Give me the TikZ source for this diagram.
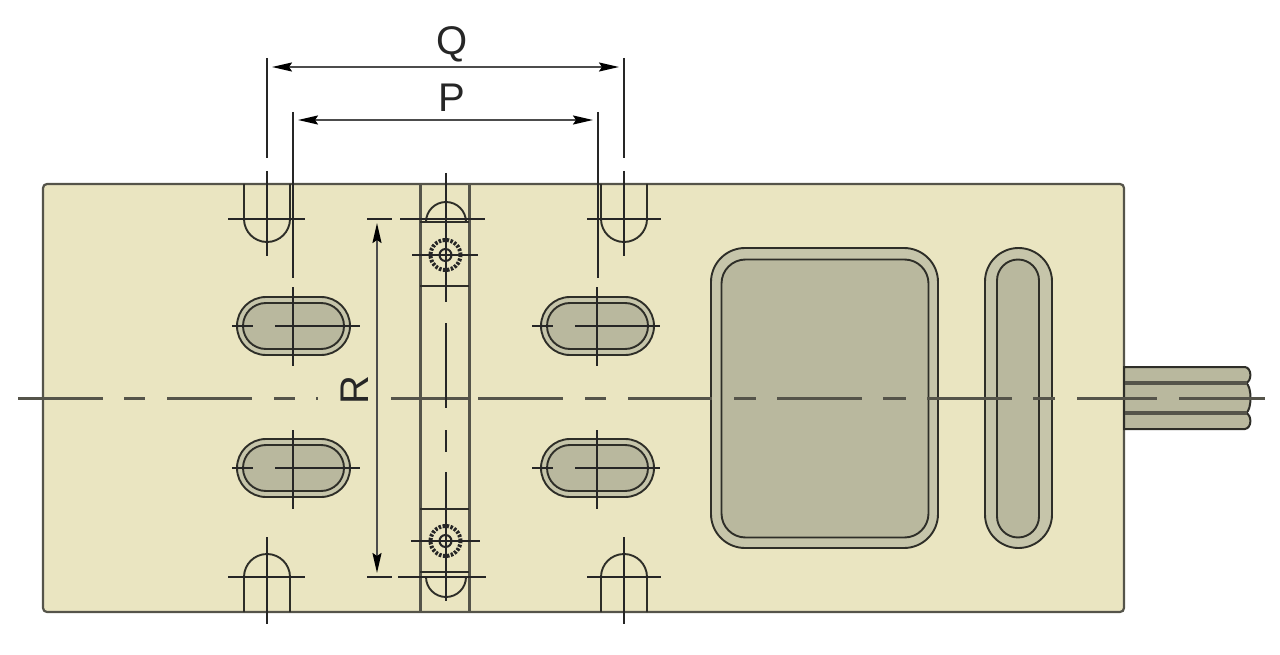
\documentclass[tikz,border=0pt]{standalone}
\usepackage{fontspec}
\setmainfont{Liberation Sans}
\usetikzlibrary{positioning}
\usetikzlibrary{arrows.meta}
\definecolor{plate}{HTML}{EAE5C1}
\definecolor{recess}{HTML}{B9B89E}
\definecolor{ring}{HTML}{C6C5AA}
\definecolor{edgeline}{HTML}{2E2E28}
\definecolor{softline}{HTML}{55544A}

\begin{document}
\begin{tikzpicture}[
  x=1pt,
  y=-1pt,
  every node/.style = {
    inner sep = 0pt,
    outer sep = 0pt,
  },
  body/.style = {
    draw = softline,
    fill = plate,
    line width = 2.2pt,
    rounded corners = 4pt,
  },
  outer/.style = {
    draw = edgeline,
    rectangle,
    fill = ring,
    line width = 1.9pt,
  },
  inner/.style = {
    draw = edgeline,
    rectangle,
    fill = recess,
    line width = 1.9pt,
  },
  wall/.style = {
    draw = edgeline,
    line width = 1.9pt,
  },
  plateline/.style = {
    draw = softline,
    line width = 3pt,
  },
  cross/.style = {
    draw = black!85,
    line width = 1.7pt,
  },
  axis/.style = {
    draw = softline,
    line width = 3pt,
  },
  dim/.style = {
    draw = black!70,
    line width = 2pt,
    {Stealth[length=20pt,width=9pt,inset=3pt,color=black]}-{Stealth[length=20pt,width=9pt,inset=3pt,color=black]},
  },
  letter/.style = {
    font = \fontsize{40}{40}\selectfont,
    text = black!85,
  },
]

  \useasboundingbox (0,0) rectangle (1280,655);

  % housing and shaft
  \node[body,draw,rectangle,minimum width=1081pt,minimum height=428pt] (housing) at (583.5,398) {};

  \path[draw=edgeline,fill=recess,line width=2pt]
    (1124,367) -- (1245,367) .. controls (1252,368) and (1252,381) .. (1246,383)
    .. controls (1252,386) and (1252,410) .. (1246,413)
    .. controls (1252,415) and (1252,428) .. (1245,429) -- (1124,429) -- cycle;
  \draw[plateline,line width=3.5pt] (1124,383) -- (1247,383);
  \draw[plateline,line width=3.5pt] (1124,413) -- (1247,413);
  \draw[draw=edgeline,line width=2.4pt] (housing.north east |- 0,367) -- (housing.north east |- 0,429);

  % windows
  \node[outer,rounded corners=34pt,minimum width=227pt,minimum height=300pt] (win) at (824.5,398) {};
  \node[inner,rounded corners=24pt,minimum width=207pt,minimum height=278pt] (wini) at (825,398.5) {};
  \node[outer,rounded corners=33.5pt,minimum width=67pt,minimum height=300pt] (gap) at (1018.5,398) {};
  \node[inner,rounded corners=21pt,minimum width=42pt,minimum height=278pt] (gapi) at (1018,398.5) {};

  % oblong holes
  \node[outer,rounded corners=29pt,minimum width=113pt,minimum height=58pt] (ob0) at (293.5,326) {};
  \node[inner,rounded corners=23pt,minimum width=101pt,minimum height=46pt] (obi0) at (293.5,326) {};
  \node[outer,rounded corners=29pt,minimum width=113pt,minimum height=58pt] (ob1) at (293.5,468) {};
  \node[inner,rounded corners=23pt,minimum width=101pt,minimum height=46pt] (obi1) at (293.5,468) {};
  \node[outer,rounded corners=29pt,minimum width=113pt,minimum height=58pt] (ob2) at (597.5,326) {};
  \node[inner,rounded corners=23pt,minimum width=101pt,minimum height=46pt] (obi2) at (597.5,326) {};
  \node[outer,rounded corners=29pt,minimum width=113pt,minimum height=58pt] (ob3) at (597.5,468) {};
  \node[inner,rounded corners=23pt,minimum width=101pt,minimum height=46pt] (obi3) at (597.5,468) {};

  % open slots
  \draw[wall] (244,184) -- (244,219) arc[start angle=180,end angle=360,radius=23pt] -- (290,184);
  \draw[wall] (601,184) -- (601,219) arc[start angle=180,end angle=360,radius=23pt] -- (647,184);
  \draw[wall] (244,612) -- (244,577) arc[start angle=180,end angle=0,radius=23pt] -- (290,612);
  \draw[wall] (601,612) -- (601,577) arc[start angle=180,end angle=0,radius=23pt] -- (647,612);

  % clamp bar
  \draw[plateline] (420,184) -- (420,612);
  \draw[plateline] (469,184) -- (469,612);
  \draw[wall] (420,222) -- (469,222);
  \draw[wall] (420,286) -- (469,286);
  \draw[wall] (420,509) -- (469,509);
  \draw[wall] (420,572) -- (469,572);
  \draw[wall] (426,222) arc[start angle=180,end angle=0,radius=20pt];
  \draw[wall] (426,577) arc[start angle=-180,end angle=0,radius=20pt];

  \node[draw=black!85,circle,dash pattern=on 2.5pt off 1.5pt,line width=4pt,minimum size=30pt] (scr0) at (445.5,255) {};
  \node[draw=black!85,circle,line width=2pt,minimum size=12pt] (sci0) at (445.5,255) {};
  \node[draw=black!85,circle,dash pattern=on 2.5pt off 1.5pt,line width=4pt,minimum size=30pt] (scr1) at (445.5,541) {};
  \node[draw=black!85,circle,line width=2pt,minimum size=12pt] (sci1) at (445.5,541) {};

  % center lines
  \draw[axis] (18,398) -- (103,398) (124,398) -- (145,398) (167,398) -- (252,398)
    (274,398) -- (295,398) (316,398) -- (318,398) (391,398) -- (470,398)
    (478,398) -- (563,398) (585,398) -- (606,398) (628,398) -- (712,398)
    (734,398) -- (756,398) (777,398) -- (862,398) (883,398) -- (906,398)
    (927,398) -- (1012,398) (1033,398) -- (1055,398) (1077,398) -- (1157,398)
    (1179,398) -- (1265,398);

  \draw[cross] (228,219) -- (305,219);
  \draw[cross] (267,171) -- (267,256);
  \draw[cross] (587,219) -- (661,219);
  \draw[cross] (624,171) -- (624,256);
  \draw[cross] (228,577) -- (305,577);
  \draw[cross] (267,537) -- (267,624);
  \draw[cross] (587,577) -- (661,577);
  \draw[cross] (624,537) -- (624,624);

  \draw[cross] (232,326) -- (253,326) (275,326) -- (360,326);
  \draw[cross] (293,287) -- (293,366);
  \draw[cross] (232,468) -- (253,468) (275,468) -- (360,468);
  \draw[cross] (293,430) -- (293,509);
  \draw[cross] (532,326) -- (553,326) (575,326) -- (660,326);
  \draw[cross] (597,287) -- (597,366);
  \draw[cross] (532,468) -- (553,468) (575,468) -- (660,468);
  \draw[cross] (597,430) -- (597,509);

  \draw[cross] (400,219) -- (485,219);
  \draw[cross] (412,255) -- (478,255);
  \draw[cross] (398,577) -- (486,577);
  \draw[cross] (411,541) -- (480,541);
  \draw[cross] (446,173) -- (446,302) (446,323) -- (446,408) (446,430) -- (446,452) (446,472) -- (446,601);

  % dimensions
  \coordinate (q0) at (267,67);
  \coordinate (q1) at (624,67);
  \coordinate (p0) at (293,120);
  \coordinate (p1) at (598,120);
  \coordinate (r0) at (377,219);
  \coordinate (r1) at (377,577);

  \draw[cross] (267,58) -- (267,158);
  \draw[cross] (624,58) -- (624,158);
  \draw[cross] (293,112) -- (293,278);
  \draw[cross] (598,112) -- (598,278);
  \draw[cross] (367,219) -- (392,219);
  \draw[cross] (367,577) -- (392,577);

  \draw[dim,shorten >=5pt,shorten <=5pt] (q0) -- (q1);
  \draw[dim,shorten >=5pt,shorten <=5pt] (p0) -- (p1);
  \draw[dim,shorten >=4pt,shorten <=4pt] (r0) -- (r1);

  \node[letter] (lq) at (452,44) {Q};
  \node[letter] (lp) at (452,98) {P};
  \node[letter,rotate=90] (lr) at (355,390) {R};

\end{tikzpicture}
\end{document}
